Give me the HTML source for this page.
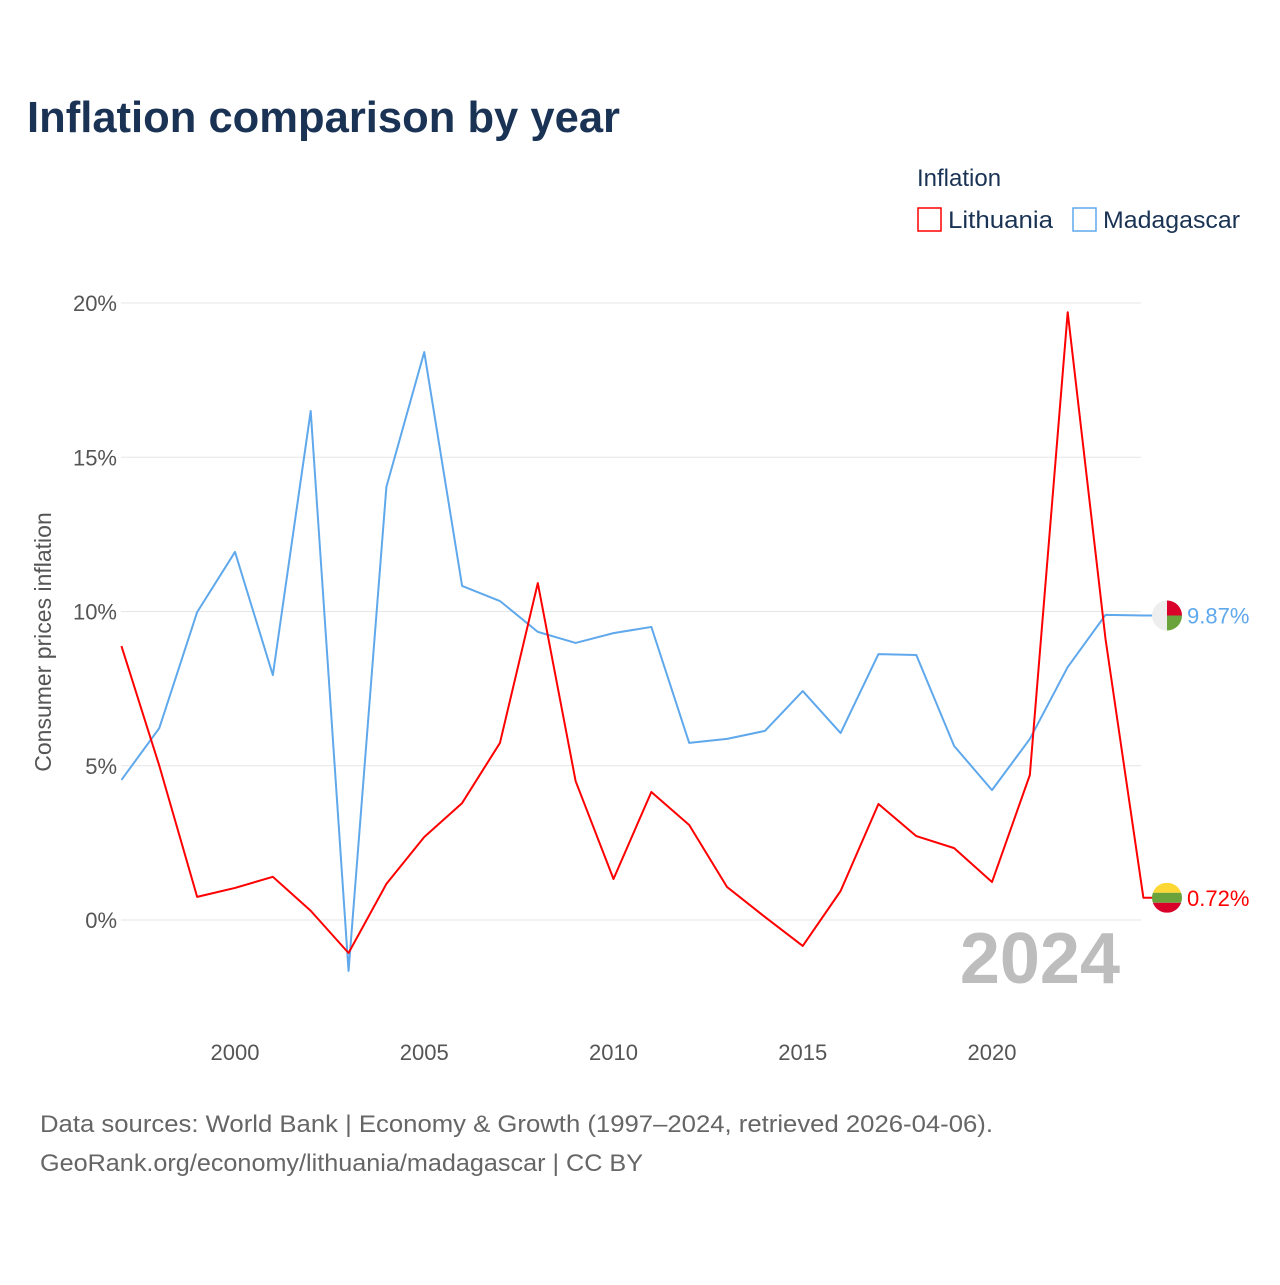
<!DOCTYPE html>
<html><head><meta charset="utf-8"><style>
body{margin:0;background:#fff;font-family:"Liberation Sans",sans-serif}
</style></head><body>
<svg width="1280" height="1280" xmlns="http://www.w3.org/2000/svg" font-family="Liberation Sans, sans-serif">
<text x="27" y="132" font-size="44" font-weight="bold" fill="#1a3355" textLength="593" lengthAdjust="spacingAndGlyphs">Inflation comparison by year</text>
<text x="917" y="186" font-size="24" fill="#1a3355">Inflation</text>
<g><rect x="918" y="208" width="23" height="23" fill="none" stroke="#f00" stroke-width="1.5"/><text x="948" y="228" font-size="24" fill="#1a3355" textLength="105" lengthAdjust="spacingAndGlyphs">Lithuania</text></g>
<g><rect x="1073" y="208" width="23" height="23" fill="none" stroke="#5fa8ec" stroke-width="1.5"/><text x="1103" y="228" font-size="24" fill="#1a3355" textLength="137" lengthAdjust="spacingAndGlyphs">Madagascar</text></g>
<g id="grid"></g><g id="yt"></g><g id="xt"></g>
<text x="1120" y="983" font-size="72" font-weight="bold" fill="#bdbdbd" text-anchor="end">2024</text>
<text transform="translate(51,642) rotate(-90)" font-size="23" fill="#555" text-anchor="middle">Consumer prices inflation</text>
<g id="series"></g>
<text x="40" y="1132" font-size="24" fill="#666" textLength="953" lengthAdjust="spacingAndGlyphs">Data sources: World Bank | Economy &amp; Growth (1997–2024, retrieved 2026-04-06).</text>
<text x="40" y="1171" font-size="24" fill="#666" textLength="603" lengthAdjust="spacingAndGlyphs">GeoRank.org/economy/lithuania/madagascar | CC BY</text>
</svg>
<script>
const years=[1997,1998,1999,2000,2001,2002,2003,2004,2005,2006,2007,2008,2009,2010,2011,2012,2013,2014,2015,2016,2017,2018,2019,2020,2021,2022,2023,2024];
const lithuania=[8.88,5.0,0.75,1.04,1.4,0.3,-1.07,1.17,2.69,3.79,5.74,10.92,4.5,1.33,4.15,3.08,1.07,0.1,-0.84,0.94,3.76,2.72,2.33,1.23,4.7,19.7,9.1,0.72];
const madagascar=[4.54,6.22,9.98,11.93,7.94,16.5,-1.65,14.04,18.41,10.83,10.34,9.34,8.98,9.3,9.5,5.74,5.87,6.13,7.42,6.06,8.62,8.59,5.64,4.21,5.87,8.2,9.89,9.87];
const yTicks=[0,5,10,15,20];
const xTicks=[2000,2005,2010,2015,2020];
const NS="http://www.w3.org/2000/svg";
const x=v=>235+(v-2000)*37.85, y=v=>920-v*30.85;
function mk(tag,attrs,parent){const e=document.createElementNS(NS,tag);for(const k in attrs)e.setAttribute(k,attrs[k]);document.getElementById(parent).appendChild(e);return e;}
yTicks.forEach(t=>{
 const l=mk('line',{x1:121,x2:1141,y1:y(t),y2:y(t),stroke:'#e6e6e6','stroke-width':1},'grid');
 
 
 const tx=mk('text',{x:117,y:y(t)+8,'font-size':22,fill:'#555','text-anchor':'end'},'yt');tx.textContent=t+'%';
 
 
});
xTicks.forEach(t=>{
 const tx=mk('text',{x:x(t),y:1060,'font-size':22,fill:'#555','text-anchor':'middle'},'xt');tx.textContent=t;
 
 
});
function series(vals,color,name){
 const pts=vals.map((v,i)=>x(years[i])+','+y(v));
 const last=vals[vals.length-1];
 pts.push('1160,'+y(last));
 const p=mk('polyline',{points:pts.join(' '),fill:'none',stroke:color,'stroke-width':2,'stroke-linejoin':'round'},'series');
 
 
 const t=mk('text',{x:1187,y:y(last)+8,'font-size':22,fill:color},'series');t.textContent=last.toFixed(2)+'%';
 
 
 return y(last);
}
const ym=series(madagascar,'#5fa8ec','madagascar');
const yl=series(lithuania,'#f00','lithuania');
const cx=1167,r=15;
let g=mk('g',{},'series');
g.innerHTML=`<clipPath id="cm"><circle cx="${cx}" cy="${ym}" r="${r}"/></clipPath><g clip-path="url(#cm)"><rect x="${cx-r}" y="${ym-r}" width="${r}" height="${2*r}" fill="#eee"/><rect x="${cx}" y="${ym-r}" width="${r}" height="${r}" fill="#d9002a"/><rect x="${cx}" y="${ym}" width="${r}" height="${r}" fill="#6aa33c"/></g>`;
g=mk('g',{},'series');
g.innerHTML=`<clipPath id="cl"><circle cx="${cx}" cy="${yl}" r="${r}"/></clipPath><g clip-path="url(#cl)"><rect x="${cx-r}" y="${yl-r}" width="${2*r}" height="10" fill="#fdd835"/><rect x="${cx-r}" y="${yl-5}" width="${2*r}" height="10" fill="#6aa33c"/><rect x="${cx-r}" y="${yl+5}" width="${2*r}" height="10" fill="#d9002a"/></g>`;
</script>
</body></html>
